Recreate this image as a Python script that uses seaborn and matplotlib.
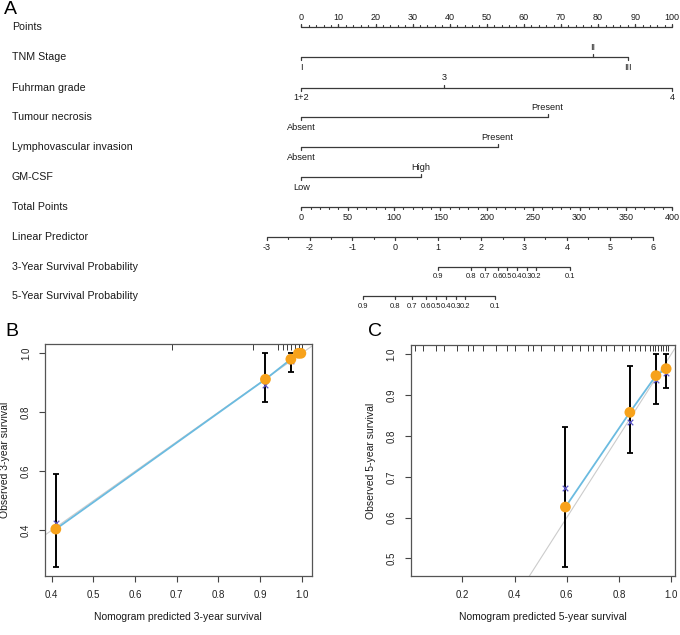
import matplotlib
matplotlib.use("Agg")
import matplotlib.pyplot as plt
import numpy as np
import pandas as pd
import seaborn as sns

sns.set_theme(style="white")
plt.rcParams["font.family"] = ["Liberation Sans", "DejaVu Sans"]

W, H = 680, 635
LINE = "#3a3a3a"
TXT = "#1a1a1a"
ORANGE = "#f7a21b"
BLUE = "#6bbbe0"
XBLUE = "#5b55c8"

# ── Panel A: nomogram values (points scale 0-100) ──────────────────────────────
points_ticks = list(range(0, 101, 10))
tnm_levels = ["I", "II", "III"]
tnm_points = [0, 78.5, 88.0]
fuhrman_levels = ["1+2", "3", "4"]
fuhrman_points = [0, 38.5, 100]
necrosis_levels = ["Absent", "Present"]
necrosis_points = [0, 66.4]
lvi_levels = ["Absent", "Present"]
lvi_points = [0, 52.9]
gmcsf_levels = ["Low", "High"]
gmcsf_points = [0, 32.2]
total_ticks = list(range(0, 401, 50))
lp_ticks = [-3, -2, -1, 0, 1, 2, 3, 4, 5, 6]
lp_total_points = [-37.3, 8.9, 55.2, 101.4, 147.6, 193.9, 240.1, 286.3, 332.6, 378.8]
surv_ticks = [0.9, 0.8, 0.7, 0.6, 0.5, 0.4, 0.3, 0.2, 0.1]
surv3_total_points = [147.3, 182.9, 198.0, 212.0, 221.7, 232.5, 243.3, 253.0, 290.2]
surv5_total_points = [66.1, 100.7, 119.0, 134.1, 144.9, 155.7, 166.5, 176.2, 208.6]

# ── Panel B: 3-year calibration ───────────────────────────────────────────────
pred3 = [0.410, 0.913, 0.974, 0.992, 0.998]
obs3 = [0.404, 0.912, 0.980, 1.000, 1.000]
lo3 = [0.277, 0.834, 0.938, 1.000, 1.000]
hi3 = [0.590, 1.000, 1.000, 1.000, 1.000]
km3 = [0.424, 0.893, 0.975, 1.000, 1.000]
rug3 = [0.688, 0.883, 0.943, 0.954, 0.964, 0.974, 0.984, 0.994, 1.0]

# ── Panel C: 5-year calibration ───────────────────────────────────────────────
pred5 = [0.595, 0.842, 0.942, 0.981]
obs5 = [0.626, 0.858, 0.948, 0.965]
lo5 = [0.479, 0.759, 0.878, 0.917]
hi5 = [0.821, 0.971, 1.000, 1.000]
km5 = [0.672, 0.835, 0.937, 0.955]
rug5 = [0.02, 0.05, 0.10, 0.13, 0.18, 0.22, 0.24, 0.28, 0.33, 0.37, 0.40, 0.45,
        0.47, 0.50, 0.55, 0.58, 0.62, 0.65, 0.68, 0.70, 0.73, 0.75, 0.78, 0.81,
        0.84, 0.86, 0.88, 0.90, 0.92, 0.93, 0.94, 0.95, 0.96, 0.97, 0.98, 0.99]


fig = plt.figure(figsize=(W / 100, H / 100), dpi=100)

# nomogram axes: x in points units, y in pixel rows
top_h = 315
axA = fig.add_axes([0, 1 - top_h / H, 1, top_h / H])
axA.set_xlim((0 - 301.3) / 3.71, (W - 301.3) / 3.71)
axA.set_ylim(top_h, 0)
axA.axis("off")


def scale_row(y, xs, labels, side, minor=(), fs=6.5, off=10):
    d = -1 if side == "above" else 1
    allx = list(xs) + list(minor)
    axA.plot([min(allx), max(allx)], [y, y], color=LINE, lw=0.9, solid_capstyle="butt")
    for x, lab in zip(xs, labels):
        axA.plot([x, x], [y, y + d * 3], color=LINE, lw=0.9)
        axA.text(x, y + d * off, lab, ha="center", va="center", fontsize=fs, color=TXT)
    for x in minor:
        axA.plot([x, x], [y, y + d * 2], color=LINE, lw=0.8)


def level_row(y, levels, pts):
    axA.plot([min(pts), max(pts)], [y, y], color=LINE, lw=0.9)
    for i, (lab, x) in enumerate(zip(levels, pts)):
        d = 1 if i % 2 == 0 else -1
        axA.plot([x, x], [y, y + d * 3], color=LINE, lw=0.9)
        axA.text(x, y + d * 10, lab, ha="center", va="center", fontsize=6.6, color=TXT)


row_names = ["Points", "TNM Stage", "Fuhrman grade", "Tumour necrosis",
             "Lymphovascular invasion", "GM-CSF", "Total Points", "Linear Predictor",
             "3-Year Survival Probability", "5-Year Survival Probability"]
row_y = [27, 57, 88, 117, 147, 177, 207, 237, 267, 296]
for name, y in zip(row_names, row_y):
    axA.text((12 - 301.3) / 3.71, y, name, ha="left", va="center", fontsize=7.7, color=TXT)

scale_row(row_y[0], points_ticks, [str(p) for p in points_ticks], "above",
          minor=np.arange(0, 101, 2), off=10)
level_row(row_y[1], tnm_levels, tnm_points)
level_row(row_y[2], fuhrman_levels, fuhrman_points)
level_row(row_y[3], necrosis_levels, necrosis_points)
level_row(row_y[4], lvi_levels, lvi_points)
level_row(row_y[5], gmcsf_levels, gmcsf_points)

tot = [t / 4 for t in total_ticks]
scale_row(row_y[6], tot, [str(t) for t in total_ticks], "below",
          minor=np.arange(0, 401, 10) / 4)
lp_x = [t / 4 for t in lp_total_points]
lp_minor = [(a + b) / 2 for a, b in zip(lp_x[:-1], lp_x[1:])]
scale_row(row_y[7], lp_x, [str(v) for v in lp_ticks], "below", minor=lp_minor)
scale_row(row_y[8], [t / 4 for t in surv3_total_points], [f"{s:.1f}" for s in surv_ticks],
          "below", fs=5.5)
scale_row(row_y[9], [t / 4 for t in surv5_total_points], [f"{s:.1f}" for s in surv_ticks],
          "below", fs=5.5)


# ── calibration panels ────────────────────────────────────────────────────────
def calib_panel(rect, pred, obs, lo, hi, km, rug, xlim, ylim, xticks, yticks, xlabel, ylabel):
    ax = fig.add_axes(rect)
    df = pd.DataFrame({"pred": pred, "obs": obs, "lo": lo, "hi": hi, "km": km})
    ax.plot(xlim, xlim, color="#cccccc", lw=0.8, zorder=1)
    sns.lineplot(data=df, x="pred", y="obs", sort=False, estimator=None,
                 color=BLUE, lw=1.3, ax=ax, zorder=2)
    ax.errorbar(df["pred"], df["obs"], yerr=[df["obs"] - df["lo"], df["hi"] - df["obs"]],
                fmt="none", ecolor="black", elinewidth=1.4, capsize=2.5, capthick=1.3, zorder=3)
    sns.scatterplot(data=df, x="pred", y="km", marker="x", color=XBLUE, s=16,
                    linewidth=0.9, ax=ax, zorder=4)
    sns.scatterplot(data=df, x="pred", y="obs", color=ORANGE, s=60, edgecolor="none",
                    ax=ax, zorder=5)
    ax.vlines(rug, 0.975, 1.0, transform=ax.get_xaxis_transform(), color=LINE, lw=0.7)
    ax.set_xlim(xlim)
    ax.set_ylim(ylim)
    ax.set_xticks(xticks)
    ax.set_yticks(yticks)
    ax.set_xticklabels([f"{v:.1f}" for v in xticks])
    ax.set_yticklabels([f"{v:.1f}" for v in yticks], rotation=90, va="center")
    ax.tick_params(direction="out", length=4, width=0.8, colors="#444444",
                   labelcolor="#222222", labelsize=7, pad=6, bottom=True, left=True)
    for s in ax.spines.values():
        s.set_color("#555555")
        s.set_linewidth(0.9)
    ax.set_xlabel(xlabel, fontsize=7.5, color=TXT, labelpad=9)
    ax.set_ylabel(ylabel, fontsize=7.5, color=TXT, labelpad=8)
    return ax


calib_panel([45 / W, 1 - 576 / H, 266.7 / W, 231.7 / H], pred3, obs3, lo3, hi3, km3, rug3,
            (0.384, 1.024), (0.245, 1.0305), [0.4, 0.5, 0.6, 0.7, 0.8, 0.9, 1.0],
            [0.4, 0.6, 0.8, 1.0], "Nomogram predicted 3-year survival", "Observed 3-year survival")
calib_panel([410.7 / W, 1 - 576 / H, 264.3 / W, 231 / H], pred5, obs5, lo5, hi5, km5, rug5,
            (0.002, 1.015), (0.457, 1.023), [0.2, 0.4, 0.6, 0.8, 1.0],
            [0.5, 0.6, 0.7, 0.8, 0.9, 1.0], "Nomogram predicted 5-year survival", "Observed 5-year survival")

for lab, x, y in [("A", 4, 9), ("B", 5, 331), ("C", 368, 331)]:
    fig.text(x / W, 1 - y / H, lab, fontsize=14, ha="left", va="center", color="black")

fig.savefig("out.png", dpi=100)
